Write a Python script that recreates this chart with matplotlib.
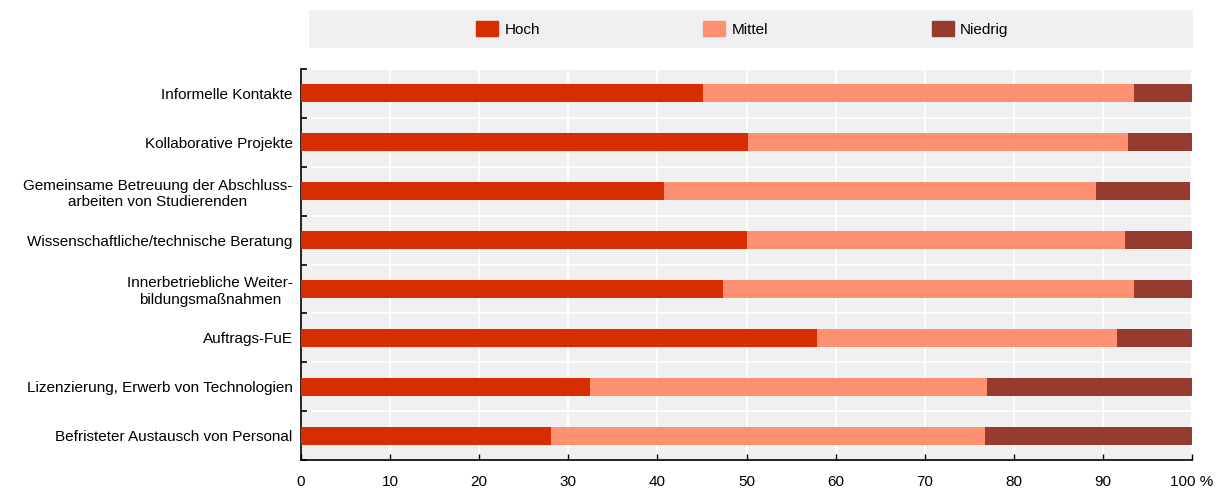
import matplotlib.pyplot as plt
from matplotlib.patches import Patch
import numpy as np

plt.rcParams['font.family'] = ['Liberation Sans', 'DejaVu Sans']

categories = [
    'Informelle Kontakte',
    'Kollaborative Projekte',
    'Gemeinsame Betreuung der Abschluss-\narbeiten von Studierenden',
    'Wissenschaftliche/technische Beratung',
    'Innerbetriebliche Weiter-\nbildungsmaßnahmen',
    'Auftrags-FuE',
    'Lizenzierung, Erwerb von Technologien',
    'Befristeter Austausch von Personal',
]
hoch = [45.1, 50.2, 40.7, 50.0, 47.4, 57.9, 32.4, 28.1]
mittel = [48.4, 42.6, 48.5, 42.5, 46.1, 33.7, 44.6, 48.7]
niedrig = [6.5, 7.2, 10.6, 7.5, 6.5, 8.4, 23.0, 23.2]

series = ['Hoch', 'Mittel', 'Niedrig']
colors = ['#D72D00', '#FF9173', '#953B30']
xticks = [0, 10, 20, 30, 40, 50, 60, 70, 80, 90, 100]
xticklabels = ['0', '10', '20', '30', '40', '50', '60', '70', '80', '90', '100 %']

fs = 11

fig = plt.figure(figsize=(12.31, 4.92), dpi=100)
ax = fig.add_axes([301 / 1231, 1 - 460 / 492, 891 / 1231, 391 / 492])
ax.set_facecolor('#F0F0F0')

y = np.arange(len(categories))
left = np.zeros(len(categories))
for vals, col, name in zip([hoch, mittel, niedrig], colors, series):
    ax.barh(y, vals, left=left, height=0.37, color=col, label=name, zorder=3)
    left += np.array(vals)

ax.set_ylim(len(categories) - 0.5, -0.5)
ax.set_xlim(0, 100)
ax.set_xticks(xticks)
ax.set_xticklabels(xticklabels, fontsize=fs)
ax.set_yticks(y)
ax.set_yticklabels(categories, fontsize=fs)
for lab in ax.get_yticklabels():
    lab.set_multialignment('center')
ax.set_yticks(np.arange(len(categories) + 1) - 0.5, minor=True)

ax.tick_params(axis='y', which='major', length=0, pad=6)
ax.tick_params(axis='y', which='minor', length=4, direction='in', width=1.2)
ax.tick_params(axis='x', length=4, direction='in', width=1, pad=11)
ax.grid(axis='x', color='white', linewidth=1.3, zorder=1)
ax.grid(axis='y', which='minor', color='white', linewidth=1.3, zorder=1)
ax.set_axisbelow(True)
for s in ['top', 'right']:
    ax.spines[s].set_visible(False)
ax.spines['left'].set_linewidth(1.2)
ax.spines['bottom'].set_linewidth(1.2)

lax = fig.add_axes([309 / 1231, 1 - 48 / 492, 884 / 1231, 38 / 492])
lax.set_facecolor('#F0F0F0')
lax.set_xticks([])
lax.set_yticks([])
for s in lax.spines.values():
    s.set_visible(False)
handles = [Patch(color=c) for c in colors]
lax.legend(handles, series, ncol=3, loc='center', bbox_to_anchor=(0.49, 0.5),
           frameon=False, fontsize=fs, handlelength=1.45, handleheight=1.05,
           handletextpad=0.4, columnspacing=10.7)

fig.savefig('out.png', dpi=100)
